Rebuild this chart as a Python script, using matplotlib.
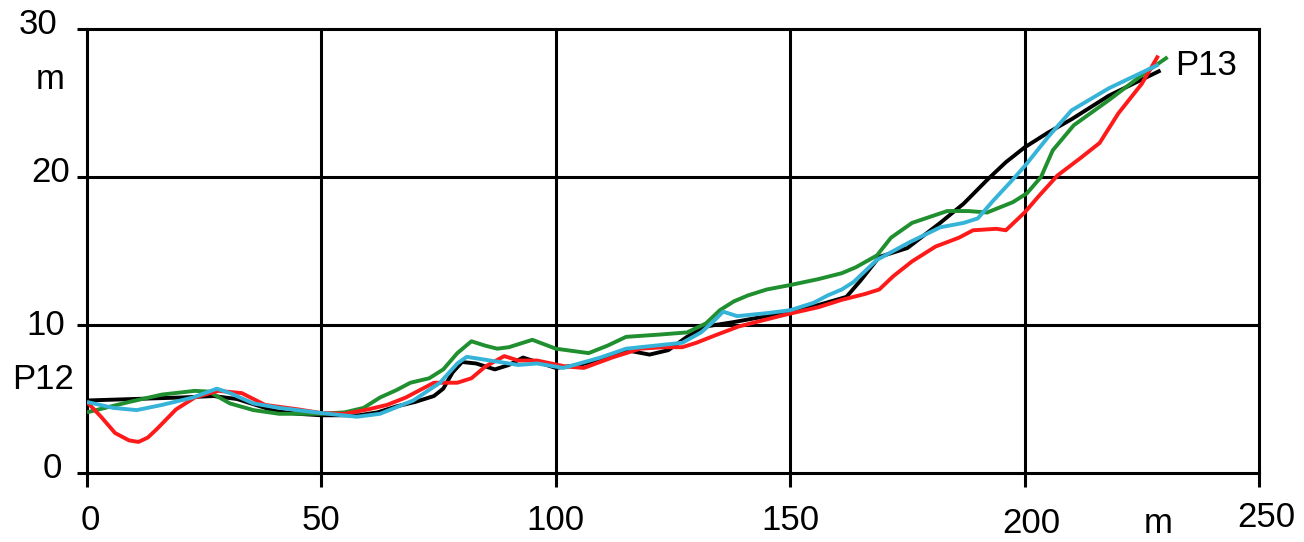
import matplotlib
matplotlib.use("Agg")
import matplotlib.pyplot as plt

plt.rcParams['font.family'] = ['Liberation Sans', 'DejaVu Sans']

# Longitudinal profile P12 -> P13: distance (m) vs elevation (m)
black_x = [0, 10, 20, 27, 32, 36, 40, 45, 50, 58, 62, 66, 70, 74, 76, 78, 80, 83, 87, 90, 93, 97,
           100, 105, 110, 115, 120, 124, 128, 132, 138, 145, 150, 156, 162, 165, 169, 175,
           182, 187, 192, 196, 200, 205, 210, 218, 229]
black_y = [4.9, 5.0, 5.1, 5.2, 5.0, 4.6, 4.2, 4.0, 3.9, 3.9, 4.1, 4.5, 4.8, 5.2, 5.7, 6.8, 7.5, 7.4,
           7.0, 7.3, 7.8, 7.4, 7.1, 7.3, 7.7, 8.3, 8.0, 8.3, 9.2, 9.9, 10.2, 10.6, 10.9,
           11.35, 11.9, 13.0, 14.6, 15.2, 16.9, 18.2, 19.8, 21.0, 22.0, 23.0, 23.9, 25.5, 27.2]

red_x = [0, 3, 6, 9, 11, 13, 15, 19, 23, 28, 33, 38, 45, 50, 55, 60, 64, 68, 74, 79, 82,
         85, 89, 92, 96, 102, 106, 112, 118, 123, 127, 130, 134, 139, 149, 156, 161, 166,
         169, 172, 176, 181, 186, 189, 194, 196, 200, 203, 207, 212, 216, 220, 225, 228.5]
red_y = [4.8, 3.8, 2.7, 2.2, 2.1, 2.4, 3.0, 4.3, 5.1, 5.55, 5.4, 4.6, 4.3, 4.05, 4.0, 4.3,
         4.6, 5.1, 6.1, 6.1, 6.4, 7.2, 7.9, 7.6, 7.6, 7.2, 7.1, 7.8, 8.4, 8.5, 8.5, 8.8, 9.3,
         9.9, 10.7, 11.2, 11.7, 12.1, 12.4, 13.3, 14.3, 15.3, 15.9, 16.4, 16.5, 16.4, 17.6,
         18.7, 20.1, 21.3, 22.3, 24.3, 26.3, 28.2]

green_x = [0, 9, 16, 23, 26, 30.5, 35.5, 41, 50, 55, 59, 62.5, 66, 69, 73, 76, 79, 82, 85,
           87.5, 90, 95, 100, 107, 111, 115, 122, 128, 132, 135, 138, 141, 145, 150, 156,
           161, 164, 168.5, 171.5, 176, 183.5, 188, 192, 197.5, 200.5, 203.5, 206, 210.5,
           218, 225.5, 230.5]
green_y = [4.1, 4.8, 5.3, 5.55, 5.5, 4.7, 4.25, 4.0, 4.0, 4.1, 4.4, 5.1, 5.6, 6.1, 6.4, 7.0,
           8.1, 8.9, 8.6, 8.4, 8.5, 9.0, 8.4, 8.1, 8.6, 9.2, 9.35, 9.5, 10.1, 11.0, 11.6,
           12.0, 12.4, 12.7, 13.1, 13.5, 13.9, 14.7, 15.9, 16.9, 17.7, 17.7, 17.6, 18.3, 18.9,
           20.0, 21.8, 23.5, 25.2, 27.0, 28.1]

cyan_x = [0, 5.6, 10.6, 16, 22.6, 27.7, 30.5, 35.5, 41, 50, 57.6, 62.5, 69.6, 75.3, 79, 81,
          86, 92, 96, 101.6, 107.3, 109.5, 115, 121, 127, 131, 133.5, 135.7, 138.7, 145, 150,
          155, 158, 161, 163.5, 168.5, 175.5, 182, 187, 190, 193.3, 197.4, 200.2, 205, 210,
          218, 228.6]
cyan_y = [4.8, 4.4, 4.25, 4.6, 5.1, 5.7, 5.4, 4.7, 4.4, 4.05, 3.8, 4.0, 4.9, 6.1, 7.4, 7.85,
          7.6, 7.3, 7.4, 7.1, 7.6, 7.8, 8.4, 8.6, 8.8, 9.5, 10.2, 10.9, 10.6, 10.8, 11.0,
          11.5, 12.0, 12.4, 12.9, 14.4, 15.6, 16.6, 16.9, 17.2, 18.4, 19.8, 20.8, 22.7, 24.5,
          26.0, 27.6]

x_ticks = [0, 50, 100, 150, 200, 250]
y_ticks = [0, 10, 20, 30]
start_label = "P12"
end_label = "P13"
unit = "m"

fig = plt.figure(figsize=(13.04, 5.42), dpi=100)
ax = fig.add_axes([0.0667, 0.1273, 0.8988, 0.8192])
ax.set_xlim(0, 250)
ax.set_ylim(0, 30)

series = [(black_x, black_y, '#000000'),
          (green_x, green_y, '#1f8f2f'),
          (red_x, red_y, '#ff1a1a'),
          (cyan_x, cyan_y, '#36b3d8')]
for xs, ys, c in series:
    ax.plot(xs, ys, color=c, lw=2.8, solid_joinstyle='round', solid_capstyle='butt',
            zorder=3)

for gx in x_ticks[1:-1]:
    ax.axvline(gx, color='black', lw=2.2, zorder=2)
for gy in y_ticks[1:-1]:
    ax.axhline(gy, color='black', lw=2.2, zorder=2)

for s in ax.spines.values():
    s.set_linewidth(2.2)
    s.set_color('black')

ax.set_xticks(x_ticks)
ax.set_yticks(y_ticks)
ax.set_xticklabels([])
ax.set_yticklabels([])
ax.tick_params(axis='x', direction='out', length=10, width=2.2, color='black')
ax.tick_params(axis='y', direction='out', length=7, width=2.2, color='black')

fs = 25
# y tick labels
ylab_pos = {30: (-10.5, 30.3), 20: (-7.7, 20.3), 10: (-8.7, 10.0), 0: (-7.5, 0.3)}
for v in y_ticks:
    px, py = ylab_pos[v]
    ax.text(px, py, str(v), fontsize=fs, ha='center', va='center', clip_on=False)
ax.text(-7.9, 26.6, unit, fontsize=fs, ha='center', va='center', clip_on=False)

# x tick labels
xlab_pos = {0: (0.8, -3.2), 50: (50, -3.2), 100: (100, -3.2), 150: (150, -3.2),
            200: (201.5, -3.4), 250: (251.5, -3.0)}
for v in x_ticks:
    px, py = xlab_pos[v]
    ax.text(px, py, str(v), fontsize=fs, ha='center', va='center', clip_on=False)
ax.text(228.5, -3.4, unit, fontsize=fs, ha='center', va='center', clip_on=False)

ax.text(-9.4, 6.3, start_label, fontsize=fs, ha='center', va='center', clip_on=False)
ax.text(232.0, 27.5, end_label, fontsize=fs, ha='left', va='center', clip_on=False)

fig.savefig('out.png', dpi=100)
